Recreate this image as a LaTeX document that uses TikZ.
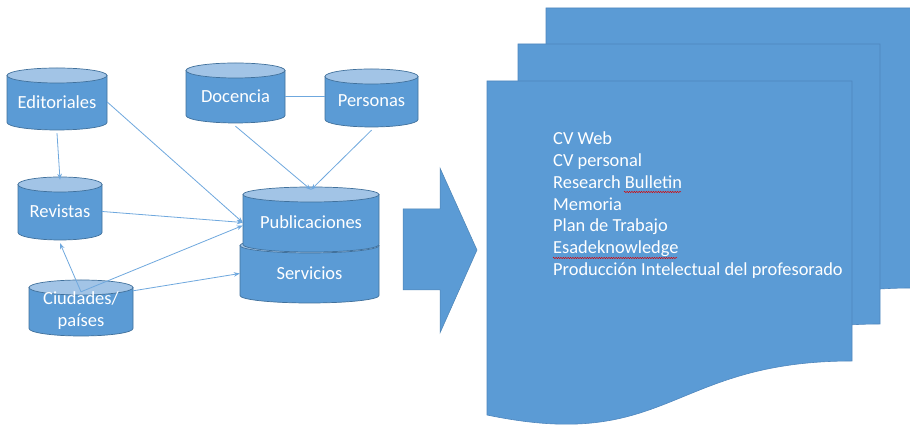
\documentclass[tikz,border=0pt]{standalone}
\usepackage{fontspec}
\setmainfont{Carlito}
\usetikzlibrary{arrows.meta,calc,decorations.pathmorphing}
\definecolor{obl}{HTML}{5B9BD5}
\definecolor{odk}{HTML}{41719C}
\definecolor{olt}{HTML}{A2C4E6}
\definecolor{docline}{HTML}{4F87BE}
\definecolor{cline}{HTML}{6FA8DE}
\tikzset{
  cylbody/.style={fill=obl, draw=odk, line width=0.7pt},
  cyltop/.style={fill=olt, draw=odk, line width=0.7pt},
  cyltext/.style={draw=none, fill=none, inner sep=0pt, text=white, align=center,
    font={\fontsize{18.5pt}{22pt}\selectfont}},
  conn/.style={draw=cline, line width=0.8pt, -{Stealth[length=6pt,width=4.5pt]}},
  connline/.style={draw=cline, line width=0.8pt},
  docst/.style={fill=obl, draw=docline, line width=0.6pt},
  doctext/.style={text=white, inner sep=0pt, align=left,
    font={\fontsize{18.4pt}{21.7pt}\selectfont}},
  squig/.style={draw=red!85!black, line width=0.45pt, decorate,
    decoration={snake, amplitude=0.7pt, segment length=2.4pt}}
}
\newcommand\mycyl[6]{%
  \pgfmathsetmacro\cxl{#2}%
  \pgfmathsetmacro\cxr{#3}%
  \pgfmathsetmacro\cyt{427-#4}%
  \pgfmathsetmacro\cyb{427-#5}%
  \pgfmathsetmacro\cxc{(#2+#3)/2}%
  \pgfmathsetmacro\crx{(#3-#2)/2}%
  \pgfmathsetmacro\cym{(\cyt+\cyb)/2-3}%
  \pgfmathsetmacro\cht{#5-#4}%
  \filldraw[cylbody] (\cxl,\cyt-7.5) -- (\cxl,\cyb+7.5)
    arc[start angle=180,end angle=360,x radius=\crx,y radius=7.5]
    -- (\cxr,\cyt-7.5) -- cycle;
  \filldraw[cyltop] (\cxc,\cyt-7.5) ellipse[x radius=\crx,y radius=7.5];
  \node[cyltext, minimum width=2*\crx pt, minimum height=\cht pt] (#1) at (\cxc,\cym) {#6};
}
\newcommand\mydoc[3]{%
  \pgfmathsetmacro\dxl{#1}%
  \pgfmathsetmacro\dxr{#2}%
  \pgfmathsetmacro\dxm{(#1+#2)/2}%
  \pgfmathsetmacro\dyt{427-#3}%
  \pgfmathsetmacro\dyr{427-#3-280}%
  \pgfmathsetmacro\dyl{427-#3-334}%
  \pgfmathsetmacro\dyc{427-#3-372}%
  \filldraw[docst] (\dxl,\dyt) -- (\dxr,\dyt) -- (\dxr,\dyr)
    .. controls (\dxm,\dyr) and (\dxm,\dyc) .. (\dxl,\dyl) -- cycle;
}
\begin{document}
\begin{tikzpicture}[x=1pt,y=1pt]
  \fill[white] (0,0) rectangle (910,427);
  \useasboundingbox (0,0) rectangle (910,427);

  % cylinders
  \mycyl{edi}{7}{107}{68}{130}{Editoriales}
  \mycyl{doc}{186}{285}{63}{123}{Docencia}
  \mycyl{per}{325}{418}{69}{127}{Personas}
  \mycyl{rev}{18}{102}{177}{240}{Revistas}
  \mycyl{ser}{240}{379}{238}{303}{Servicios}
  \mycyl{pub}{243}{379}{187}{252}{Publicaciones}
  \mycyl{ciu}{29}{133}{280}{336}{Ciudades/\\países}

  % connectors
  \draw[conn] (edi.south) -- (rev.north);
  \draw[conn] (edi.east) -- (pub.west);
  \draw[conn] (doc.south) -- (pub.north);
  \draw[conn] (per.south) -- (pub.north);
  \draw[connline] (doc.east) -- (doc.east -| per.west);
  \draw[conn] (rev.east) -- (pub.west);
  \coordinate (ciuo) at ($(ciu.north)+(0,-9)$);
  \draw[conn] (ciuo) -- (rev.south);
  \draw[conn] (ciuo) -- ($(pub.west)+(0,-3)$);
  \draw[conn] ($(ciu.north east)+(0,-8)$) -- (ser.west);

  % big arrow
  \filldraw[fill=obl, draw=obl!85!black, line width=0.5pt]
    (403,218) -- (440,218) -- (440,259) -- (477,177) -- (440,94) -- (440,137) -- (403,137) -- cycle;

  % documents
  \mydoc{546}{912}{8}
  \mydoc{518}{880}{44}
  \mydoc{487}{852}{81}

  \node[doctext, anchor=north west] (lst) at (553,295) {CV Web\\CV personal\\Research Bulletin\\Memoria\\Plan de Trabajo\\Esadeknowledge\\Producción Intelectual del profesorado};

  \draw[squig] (624,235) -- (681,235);
  \draw[squig] (553,169) -- (677,169);
\end{tikzpicture}
\end{document}
